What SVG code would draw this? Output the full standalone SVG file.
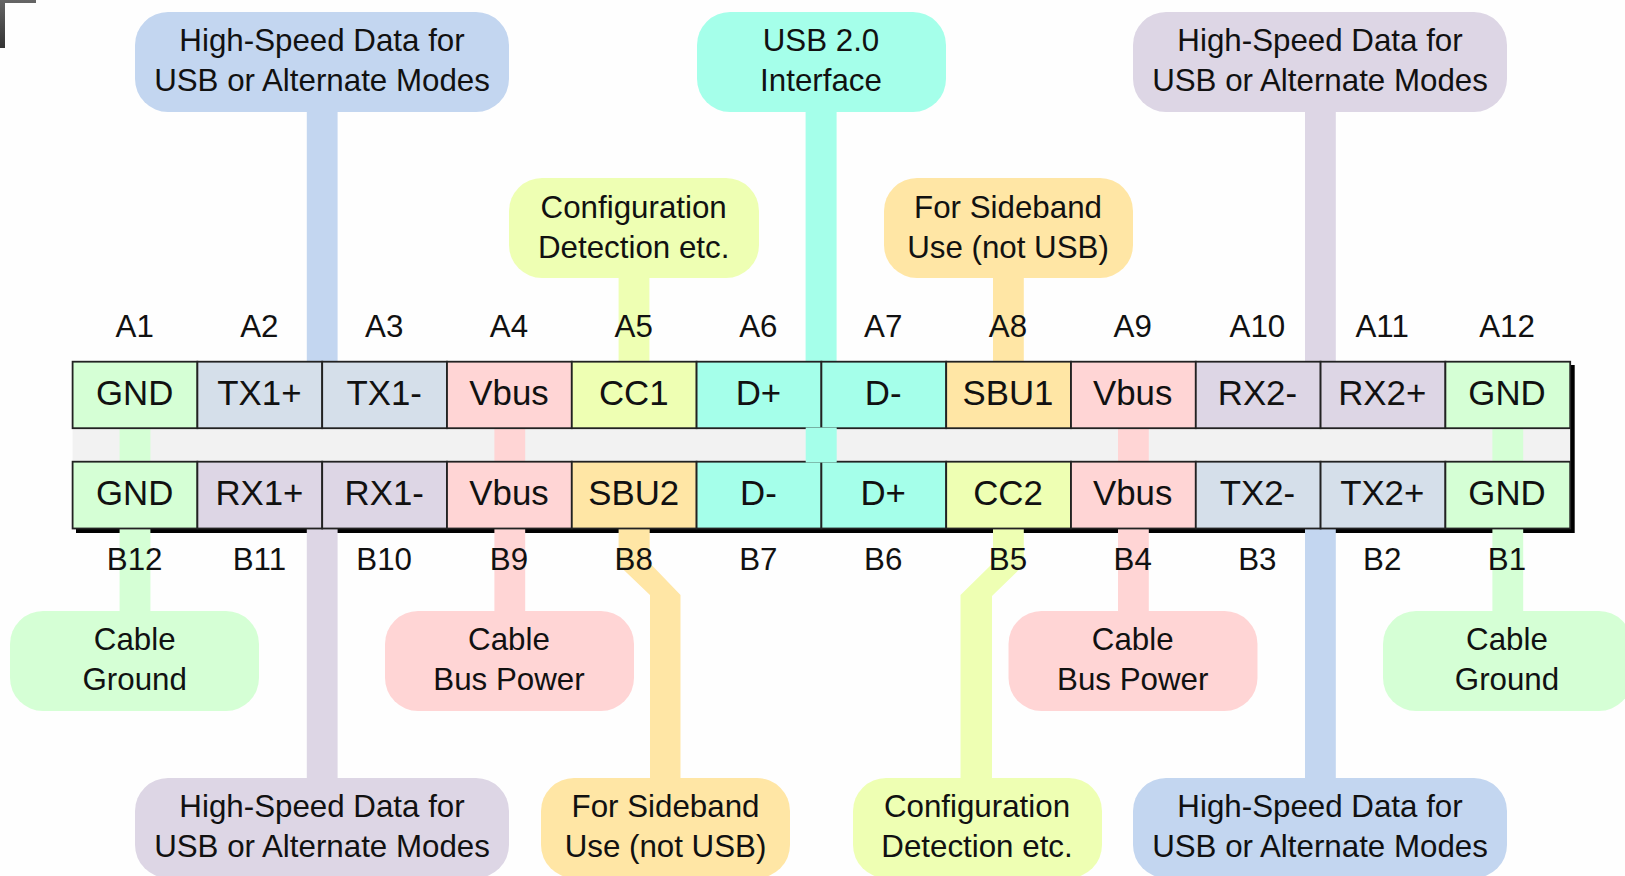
<svg xmlns="http://www.w3.org/2000/svg" width="1625" height="876" viewBox="0 0 1625 876">
<defs>
<linearGradient id="corner" x1="0" y1="0" x2="0" y2="1"><stop offset="0" stop-color="#666"/><stop offset="1" stop-color="#333"/></linearGradient>
</defs>
<style>
text{font-family:"Liberation Sans",Arial,sans-serif;fill:#111;text-anchor:middle}
.b{font-size:31.3px}
.c{font-size:34.8px}
.p{font-size:31.3px}
.g{fill:#d5ffd5}.t{fill:#d5dfea}.l{fill:#ddd6e5}.r{fill:#ffd5d5}.y{fill:#eeffb3}.q{fill:#a5ffea}.o{fill:#ffe6a5}.s{fill:#c3d6f0}
.cell{stroke:#222;stroke-width:1.8}
.bub{stroke:none}
</style>
<rect width="1625" height="876" fill="#fefefe"/>
<path d="M0 0H36V3H5V48H0Z" fill="url(#corner)"/>
<rect x="76" y="365" width="1498.700" height="168" fill="#000"/>
<rect x="72.600" y="361.700" width="1497.600" height="166.600" fill="#f2f2f2"/>
<g id="connectors">
<rect class="s" x="306.800" y="112" width="30.800" height="250"/>
<rect class="q" x="805.600" y="112" width="31" height="250"/>
<rect class="y" x="618.600" y="278" width="30.800" height="84"/>
<rect class="o" x="993" y="278" width="30.800" height="84"/>
<rect class="l" x="1305" y="112" width="30.800" height="250"/>
<rect class="g" x="119.600" y="428" width="30.800" height="33"/>
<rect class="r" x="494.400" y="428" width="30.800" height="33"/>
<rect class="r" x="1118" y="428" width="30.800" height="33"/>
<rect class="g" x="1492.400" y="428" width="30.800" height="33"/>
<rect class="g" x="119.600" y="529" width="30.800" height="83"/>
<rect class="l" x="306.800" y="529" width="30.800" height="250"/>
<rect class="r" x="494.400" y="529" width="30.800" height="83"/>
<polygon class="o" points="618.600,529 649.700,529 649.700,563 680.500,595 680.500,779 650,779 650,595 618.600,565"/>
<polygon class="y" points="993,529 1023.800,529 1023.800,565 992,596 992,779 960.500,779 960.500,595 993,563"/>
<rect class="r" x="1118" y="529" width="30.800" height="83"/>
<rect class="s" x="1305" y="529" width="30.800" height="250"/>
<rect class="g" x="1492.400" y="529" width="30.800" height="83"/>
</g>
<g id="pin-labels" class="p">
<text x="134.700" y="337">A1</text><text x="259.400" y="337">A2</text><text x="384.200" y="337">A3</text><text x="509" y="337">A4</text><text x="633.700" y="337">A5</text><text x="758.400" y="337">A6</text><text x="883.200" y="337">A7</text><text x="1008" y="337">A8</text><text x="1132.700" y="337">A9</text><text x="1257.400" y="337">A10</text><text x="1382.200" y="337">A11</text><text x="1507" y="337">A12</text>
<text x="134.700" y="570">B12</text><text x="259.400" y="570">B11</text><text x="384.200" y="570">B10</text><text x="509" y="570">B9</text><text x="633.700" y="570">B8</text><text x="758.400" y="570">B7</text><text x="883.200" y="570">B6</text><text x="1008" y="570">B5</text><text x="1132.700" y="570">B4</text><text x="1257.400" y="570">B3</text><text x="1382.200" y="570">B2</text><text x="1507" y="570">B1</text>
</g>
<g id="pin-a1"><rect class="cell g" x="72.600" y="361.700" width="124.800" height="66.500"/><text class="c" x="134.700" y="405">GND</text></g>
<g id="pin-a2"><rect class="cell t" x="197.400" y="361.700" width="124.800" height="66.500"/><text class="c" x="259.400" y="405">TX1+</text></g>
<g id="pin-a3"><rect class="cell t" x="322.200" y="361.700" width="124.800" height="66.500"/><text class="c" x="384.200" y="405">TX1-</text></g>
<g id="pin-a4"><rect class="cell r" x="447" y="361.700" width="124.800" height="66.500"/><text class="c" x="509" y="405">Vbus</text></g>
<g id="pin-a5"><rect class="cell y" x="571.800" y="361.700" width="124.800" height="66.500"/><text class="c" x="633.700" y="405">CC1</text></g>
<g id="pin-a6"><rect class="cell q" x="696.600" y="361.700" width="124.800" height="66.500"/><text class="c" x="758.400" y="405">D+</text></g>
<g id="pin-a7"><rect class="cell q" x="821.400" y="361.700" width="124.800" height="66.500"/><text class="c" x="883.200" y="405">D-</text></g>
<g id="pin-a8"><rect class="cell o" x="946.200" y="361.700" width="124.800" height="66.500"/><text class="c" x="1008" y="405">SBU1</text></g>
<g id="pin-a9"><rect class="cell r" x="1071" y="361.700" width="124.800" height="66.500"/><text class="c" x="1132.700" y="405">Vbus</text></g>
<g id="pin-a10"><rect class="cell l" x="1195.800" y="361.700" width="124.800" height="66.500"/><text class="c" x="1257.400" y="405">RX2-</text></g>
<g id="pin-a11"><rect class="cell l" x="1320.600" y="361.700" width="124.800" height="66.500"/><text class="c" x="1382.200" y="405">RX2+</text></g>
<g id="pin-a12"><rect class="cell g" x="1445.400" y="361.700" width="124.800" height="66.500"/><text class="c" x="1507" y="405">GND</text></g>
<g id="pin-b12"><rect class="cell g" x="72.600" y="461.700" width="124.800" height="66.800"/><text class="c" x="134.700" y="505">GND</text></g>
<g id="pin-b11"><rect class="cell l" x="197.400" y="461.700" width="124.800" height="66.800"/><text class="c" x="259.400" y="505">RX1+</text></g>
<g id="pin-b10"><rect class="cell l" x="322.200" y="461.700" width="124.800" height="66.800"/><text class="c" x="384.200" y="505">RX1-</text></g>
<g id="pin-b9"><rect class="cell r" x="447" y="461.700" width="124.800" height="66.800"/><text class="c" x="509" y="505">Vbus</text></g>
<g id="pin-b8"><rect class="cell o" x="571.800" y="461.700" width="124.800" height="66.800"/><text class="c" x="633.700" y="505">SBU2</text></g>
<g id="pin-b7"><rect class="cell q" x="696.600" y="461.700" width="124.800" height="66.800"/><text class="c" x="758.400" y="505">D-</text></g>
<g id="pin-b6"><rect class="cell q" x="821.400" y="461.700" width="124.800" height="66.800"/><text class="c" x="883.200" y="505">D+</text></g>
<g id="pin-b5"><rect class="cell y" x="946.200" y="461.700" width="124.800" height="66.800"/><text class="c" x="1008" y="505">CC2</text></g>
<g id="pin-b4"><rect class="cell r" x="1071" y="461.700" width="124.800" height="66.800"/><text class="c" x="1132.700" y="505">Vbus</text></g>
<g id="pin-b3"><rect class="cell t" x="1195.800" y="461.700" width="124.800" height="66.800"/><text class="c" x="1257.400" y="505">TX2-</text></g>
<g id="pin-b2"><rect class="cell t" x="1320.600" y="461.700" width="124.800" height="66.800"/><text class="c" x="1382.200" y="505">TX2+</text></g>
<g id="pin-b1"><rect class="cell g" x="1445.400" y="461.700" width="124.800" height="66.800"/><text class="c" x="1507" y="505">GND</text></g>
<rect id="usb2-crossing" class="q" x="805.700" y="427.500" width="31" height="35"/>
<g id="callout-hs-top-left"><rect class="bub s" x="135" y="12" width="374" height="100" rx="33"/><text class="b" x="322" y="50.500">High-Speed Data for</text><text class="b" x="322" y="90.500">USB or Alternate Modes</text></g>
<g id="callout-usb2"><rect class="bub q" x="697" y="12" width="249" height="100" rx="33"/><text class="b" x="821" y="50.500">USB 2.0</text><text class="b" x="821" y="90.500">Interface</text></g>
<g id="callout-hs-top-right"><rect class="bub l" x="1133" y="12" width="374" height="100" rx="33"/><text class="b" x="1320" y="50.500">High-Speed Data for</text><text class="b" x="1320" y="90.500">USB or Alternate Modes</text></g>
<g id="callout-config-top"><rect class="bub y" x="509" y="178" width="250" height="100" rx="33"/><text class="b" x="633.700" y="217.500">Configuration</text><text class="b" x="633.700" y="257.500">Detection etc.</text></g>
<g id="callout-sideband-top"><rect class="bub o" x="884" y="178" width="249" height="100" rx="33"/><text class="b" x="1008" y="217.500">For Sideband</text><text class="b" x="1008" y="257.500">Use (not USB)</text></g>
<g id="callout-ground-left"><rect class="bub g" x="10" y="611" width="249" height="100" rx="33"/><text class="b" x="134.700" y="650">Cable</text><text class="b" x="134.700" y="690">Ground</text></g>
<g id="callout-power-left"><rect class="bub r" x="385" y="611" width="249" height="100" rx="33"/><text class="b" x="509" y="650">Cable</text><text class="b" x="509" y="690">Bus Power</text></g>
<g id="callout-power-right"><rect class="bub r" x="1008.500" y="611" width="249" height="100" rx="33"/><text class="b" x="1132.700" y="650">Cable</text><text class="b" x="1132.700" y="690">Bus Power</text></g>
<g id="callout-ground-right"><rect class="bub g" x="1383" y="611" width="249" height="100" rx="33"/><text class="b" x="1507" y="650">Cable</text><text class="b" x="1507" y="690">Ground</text></g>
<g id="callout-hs-bottom-left"><rect class="bub l" x="135" y="778" width="374" height="100" rx="33"/><text class="b" x="322" y="817">High-Speed Data for</text><text class="b" x="322" y="857">USB or Alternate Modes</text></g>
<g id="callout-sideband-bottom"><rect class="bub o" x="541" y="778" width="249" height="100" rx="33"/><text class="b" x="665.500" y="817">For Sideband</text><text class="b" x="665.500" y="857">Use (not USB)</text></g>
<g id="callout-config-bottom"><rect class="bub y" x="853" y="778" width="249" height="100" rx="33"/><text class="b" x="977" y="817">Configuration</text><text class="b" x="977" y="857">Detection etc.</text></g>
<g id="callout-hs-bottom-right"><rect class="bub s" x="1133" y="778" width="374" height="100" rx="33"/><text class="b" x="1320" y="817">High-Speed Data for</text><text class="b" x="1320" y="857">USB or Alternate Modes</text></g>
</svg>
